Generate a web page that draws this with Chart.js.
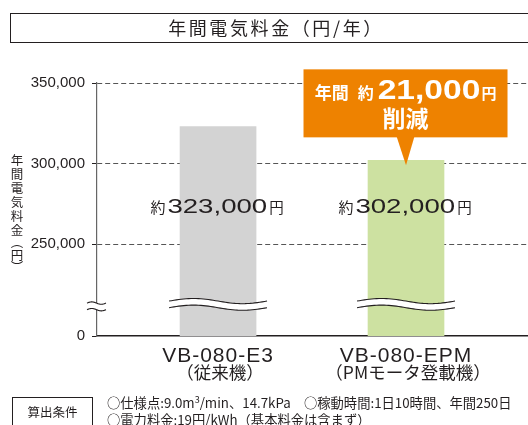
<!DOCTYPE html>
<html><head><meta charset="utf-8">
<script src="https://cdn.jsdelivr.net/npm/chart.js@4/dist/chart.umd.min.js"></script>
<style>
html,body{margin:0;padding:0;background:#fff;}
#wrap{position:relative;width:528px;height:425px;overflow:hidden;font-family:"Noto Sans CJK JP",sans-serif;color:#231f20;}
#chart{position:absolute;left:0;top:0;}
#title{position:absolute;left:10px;top:13px;width:532px;height:30px;border:1.3px solid #231f20;box-sizing:border-box;text-align:center;font-size:18px;letter-spacing:2.6px;line-height:27px;}
#condBox{position:absolute;left:12px;top:397px;width:81px;height:40px;border:1px solid #231f20;box-sizing:border-box;text-align:center;font-size:12.5px;line-height:28px;}
#cond{position:absolute;left:107px;top:394px;font-size:13.3px;line-height:17px;white-space:nowrap;}
#cond sup{font-size:9px;line-height:0;vertical-align:5px;}
</style></head>
<body>
<div id="wrap">
<canvas id="chart" width="528" height="425"></canvas>
<div id="title">年間電気料金（円/年）</div>
<div id="condBox">算出条件</div>
<div id="cond">○仕様点:9.0m<sup>3</sup>/min、14.7kPa　○稼動時間:1日10時間、年間250日<br>○電力料金:19円/kWh（基本料金は含まず）</div>
</div>
<script>
// ---- data ----
const categories = ['VB-080-E3', 'VB-080-EPM'];
const categorySub = ['（従来機）', '（PMモータ登載機）'];
const costs = [323000, 302000];
const barColors = ['#d3d3d3', '#cde1a1'];
const savingText = '21,000';
const yTickValues = [0, 250000, 300000, 350000];
const yTickLabels = ['0', '250,000', '300,000', '350,000'];
const yAxisTitle = ['年','間','電','気','料','金','︵','円','︶'];

// broken axis: the "0" tick sits at this virtual value
const Y_FLOOR = 193000;
const Y_MAX = 350000;
const BREAK_VALUE = 212000;
const X_MIN = 0.356, X_MAX = 2.649;
const INK = '#231f20';
const toVirtual = v => (v === 0 ? Y_FLOOR : v);

function drawRun(ctx, pieces, cx, baseY) {
  let total = 0;
  pieces.forEach(p => {
    ctx.font = p.font; ctx.letterSpacing = p.ls || '0px';
    p.w = ctx.measureText(p.t).width * (p.sx || 1);
    total += p.w + (p.gap || 0);
  });
  let x = cx - total / 2;
  pieces.forEach(p => {
    x += p.gap || 0;
    ctx.save();
    ctx.font = p.font; ctx.letterSpacing = p.ls || '0px';
    ctx.fillStyle = p.color; ctx.textAlign = 'left'; ctx.textBaseline = 'alphabetic';
    ctx.translate(x, baseY + (p.dy || 0)); ctx.scale(p.sx || 1, 1);
    ctx.fillText(p.t, 0, 0);
    ctx.restore();
    x += p.w;
  });
}

function wave(ctx, x0, x1, yc, amp) {
  const n = 40;
  for (let i = 0; i <= n; i++) {
    const t = i / n;
    const x = x0 + (x1 - x0) * t;
    const y = yc - amp * Math.sin(2 * Math.PI * t);
    if (i === 0) ctx.moveTo(x, y); else ctx.lineTo(x, y);
  }
}
function breakMark(ctx, x0, x1, yc, amp, gap) {
  ctx.save();
  ctx.beginPath();
  wave(ctx, x0, x1, yc - gap, amp);
  const n = 40;
  for (let i = n; i >= 0; i--) {
    const t = i / n;
    ctx.lineTo(x0 + (x1 - x0) * t, yc + gap - amp * Math.sin(2 * Math.PI * t));
  }
  ctx.closePath();
  ctx.fillStyle = '#fff'; ctx.fill();
  ctx.strokeStyle = INK; ctx.lineWidth = 1.1;
  ctx.beginPath(); wave(ctx, x0, x1, yc - gap, amp); ctx.stroke();
  ctx.beginPath(); wave(ctx, x0, x1, yc + gap, amp); ctx.stroke();
  ctx.restore();
}

const overlay = {
  id: 'overlay',
  afterDraw(chart) {
    const ctx = chart.ctx;
    const xs = chart.scales.x, ys = chart.scales.y;
    const meta = chart.getDatasetMeta(0);
    const yb = ys.getPixelForValue(BREAK_VALUE);

    // axis break
    breakMark(ctx, xs.left - 10, xs.left + 9, yb + 1, 1.2, 3.3);

    meta.data.forEach((bar, i) => {
      const w = bar.width;
      breakMark(ctx, bar.x - w / 2 - 11, bar.x + w / 2 + 11, yb - 1, 2.6, 3.3);
      // value label
      const base = (ys.getPixelForValue(250000) + ys.getPixelForValue(300000)) / 2 + 9.5;
      drawRun(ctx, [
        {t: '約', font: '15px "Noto Sans CJK JP"', color: INK},
        {t: costs[i].toLocaleString('en-US'), font: '20px "Liberation Sans"', sx: 1.38, gap: 2, color: INK},
        {t: '円', font: '14.5px "Noto Sans CJK JP"', gap: 2, color: INK}
      ], bar.x - 1, base);
      // category labels
      ctx.save();
      ctx.fillStyle = INK; ctx.textAlign = 'center'; ctx.textBaseline = 'alphabetic';
      ctx.font = '21px "Liberation Sans"'; ctx.letterSpacing = '1px';
      ctx.fillText(categories[i], bar.x, ys.bottom + 25.5);
      ctx.font = '17.5px "Noto Sans CJK JP"'; ctx.letterSpacing = '0px';
      ctx.fillText(categorySub[i], bar.x + 2, ys.bottom + 43);
      ctx.restore();
    });

    // callout pointing to the second bar
    const b = meta.data[1];
    const tipY = b.y + 5;
    const boxBottom = tipY - 28, boxTop = boxBottom - 68;
    const cx = b.x - 0.5;
    ctx.save();
    ctx.fillStyle = '#ee8200';
    ctx.fillRect(cx - 102, boxTop, 204, boxBottom - boxTop);
    ctx.beginPath();
    ctx.moveTo(cx - 9, boxBottom - 1); ctx.lineTo(cx + 9, boxBottom - 1); ctx.lineTo(b.x, tipY); ctx.closePath();
    ctx.fill();
    ctx.restore();
    drawRun(ctx, [
      {t: '年間', font: 'bold 17px "Noto Sans CJK JP"', color: '#fff'},
      {t: '約', font: 'bold 16px "Noto Sans CJK JP"', gap: 9, color: '#fff'},
      {t: savingText, font: 'bold 28px "Liberation Sans"', sx: 1.2, gap: 4, color: '#fff'},
      {t: '円', font: 'bold 15px "Noto Sans CJK JP"', gap: 1, color: '#fff'}
    ], cx, boxTop + 30);
    drawRun(ctx, [{t: '削減', font: 'bold 23px "Noto Sans CJK JP"', color: '#fff'}], cx, boxTop + 58);

    // vertical y-axis title
    ctx.save();
    ctx.fillStyle = INK; ctx.font = '12.5px "Noto Sans CJK JP"';
    ctx.textAlign = 'center'; ctx.textBaseline = 'middle';
    let ty = 160;
    yAxisTitle.forEach((ch, k) => {
      ctx.fillText(ch, 17, ty);
      const nxt = yAxisTitle[k + 1];
      ty += (ch === '︵' || ch === '︶' || nxt === '︵' || nxt === '︶') ? 12.5 : 14;
    });
    ctx.restore();
  }
};

new Chart(document.getElementById('chart'), {
  type: 'bar',
  data: {
    datasets: [{
      data: costs.map((v, i) => ({x: i + 1, y: v})),
      backgroundColor: barColors,
      borderWidth: 0,
      barThickness: 76
    }]
  },
  options: {
    responsive: false,
    animation: false,
    layout: {padding: {top: 83, left: 0, right: 0, bottom: 0}},
    plugins: {legend: {display: false}, tooltip: {enabled: false}},
    scales: {
      x: {
        type: 'linear', min: X_MIN, max: X_MAX, offset: false,
        afterBuildTicks: s => { s.ticks = categories.map((c, i) => ({value: i + 1})); },
        afterFit: s => { s.height = 89; },
        ticks: {display: false},
        grid: {display: false, offset: false},
        border: {color: INK, width: 1.4}
      },
      y: {
        type: 'linear', min: Y_FLOOR, max: Y_MAX,
        afterBuildTicks: s => { s.ticks = yTickValues.map(v => ({value: toVirtual(v)})); },
        afterFit: s => { s.width = 97; },
        ticks: {
          autoSkip: false, padding: 7, color: INK,
          font: {family: '"Liberation Sans"', size: 15},
          callback: (v) => {
            const k = yTickValues.findIndex(t => toVirtual(t) === v);
            return k >= 0 ? yTickLabels[k] : '';
          }
        },
        grid: {
          color: c => (c.tick && c.tick.value === Y_FLOOR) ? 'rgba(0,0,0,0)' : '#555',
          lineWidth: 1, tickLength: 5, tickColor: INK, tickBorderDash: [], drawTicks: true
        },
        border: {color: '#666', width: 1.2, dash: [5, 3]}
      }
    }
  },
  plugins: [overlay]
});
</script>
</body></html>
